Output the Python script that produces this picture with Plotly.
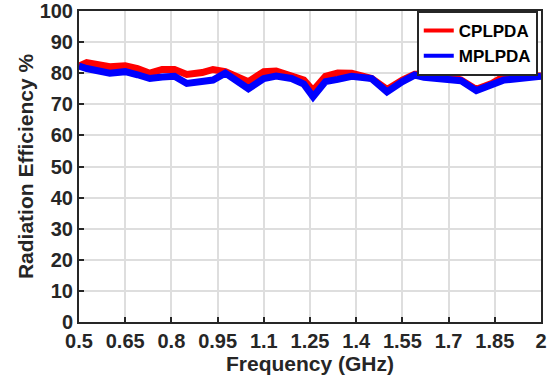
import plotly.graph_objects as go

freq = [0.5, 0.525, 0.6, 0.65, 0.69, 0.73, 0.77, 0.81, 0.85, 0.9, 0.935, 0.975,
        1.05, 1.1, 1.14, 1.19, 1.23, 1.26, 1.3, 1.34, 1.385, 1.45, 1.5, 1.55,
        1.59, 1.62, 1.7, 1.74, 1.79, 1.84, 1.88, 1.93, 2.0]
cplpda = [82.3, 83.4, 82.1, 82.4, 81.5, 80.0, 81.2, 81.2, 79.6, 80.2, 81.2, 80.5,
          77.3, 80.5, 80.7, 79.4, 77.8, 74.4, 79.0, 80.1, 80.0, 78.3, 74.8, 77.8,
          79.7, 79.7, 79.0, 77.8, 74.8, 76.7, 79.0, 79.4, 79.1]
mplpda = [82.3, 81.5, 80.0, 80.5, 79.5, 78.3, 78.8, 79.0, 76.7, 77.2, 77.8, 80.0,
          75.0, 78.3, 79.1, 78.3, 76.5, 72.4, 77.3, 78.0, 79.0, 78.3, 74.0, 77.3,
          79.4, 78.7, 77.8, 77.6, 74.4, 76.2, 77.8, 78.3, 79.0]
xticks = [0.5, 0.65, 0.8, 0.95, 1.1, 1.25, 1.4, 1.55, 1.7, 1.85, 2.0]
xticklabels = ["0.5", "0.65", "0.8", "0.95", "1.1", "1.25", "1.4", "1.55", "1.7", "1.85", "2"]
yticks = list(range(0, 101, 10))
series = [("CPLPDA", cplpda, "#ff0000"), ("MPLPDA", mplpda, "#0000ff")]

fig = go.Figure()
for name, vals, color in series:
    fig.add_trace(go.Scatter(x=freq, y=vals, mode="lines", name=name, showlegend=False,
                             line=dict(color=color, width=7)))
for name, vals, color in series:
    fig.add_trace(go.Scatter(x=[None], y=[None], mode="lines", name=name,
                             line=dict(color=color, width=4)))

font_family = "Liberation Sans, Arial, sans-serif"
dark = "#262626"
axis_common = dict(
    showline=True, linecolor=dark, linewidth=2, mirror=True,
    ticks="inside", ticklen=5, tickwidth=2, tickcolor=dark,
    showgrid=True, gridcolor="#dedede", gridwidth=1.5, zeroline=False,
    automargin=False,
    tickfont=dict(family=font_family, size=20, color=dark, weight="bold"),
)
title_font = dict(family=font_family, size=21, color=dark, weight="bold")
fig.update_layout(
    width=554, height=383,
    margin=dict(l=79, r=13, t=11, b=61),
    paper_bgcolor="white", plot_bgcolor="white",
    font=dict(family=font_family, color=dark),
    xaxis=dict(range=[0.5, 2.0], tickvals=xticks, ticktext=xticklabels,
               title=dict(text="Frequency (GHz)", standoff=0, font=title_font),
               **axis_common),
    yaxis=dict(range=[0, 100], tickvals=yticks,
               title=dict(text="Radiation Efficiency %", standoff=0, font=title_font),
               **axis_common),
    legend=dict(x=0.993, y=1.0, xanchor="right", yanchor="top",
                bgcolor="white", bordercolor=dark, borderwidth=2,
                font=dict(family=font_family, size=17, color="black", weight="bold"),
                tracegroupgap=0),
    showlegend=True,
)
fig.write_html("out.html", config={"displayModeBar": False},
               post_script="document.body.style.margin='0';document.body.style.padding='0';")
